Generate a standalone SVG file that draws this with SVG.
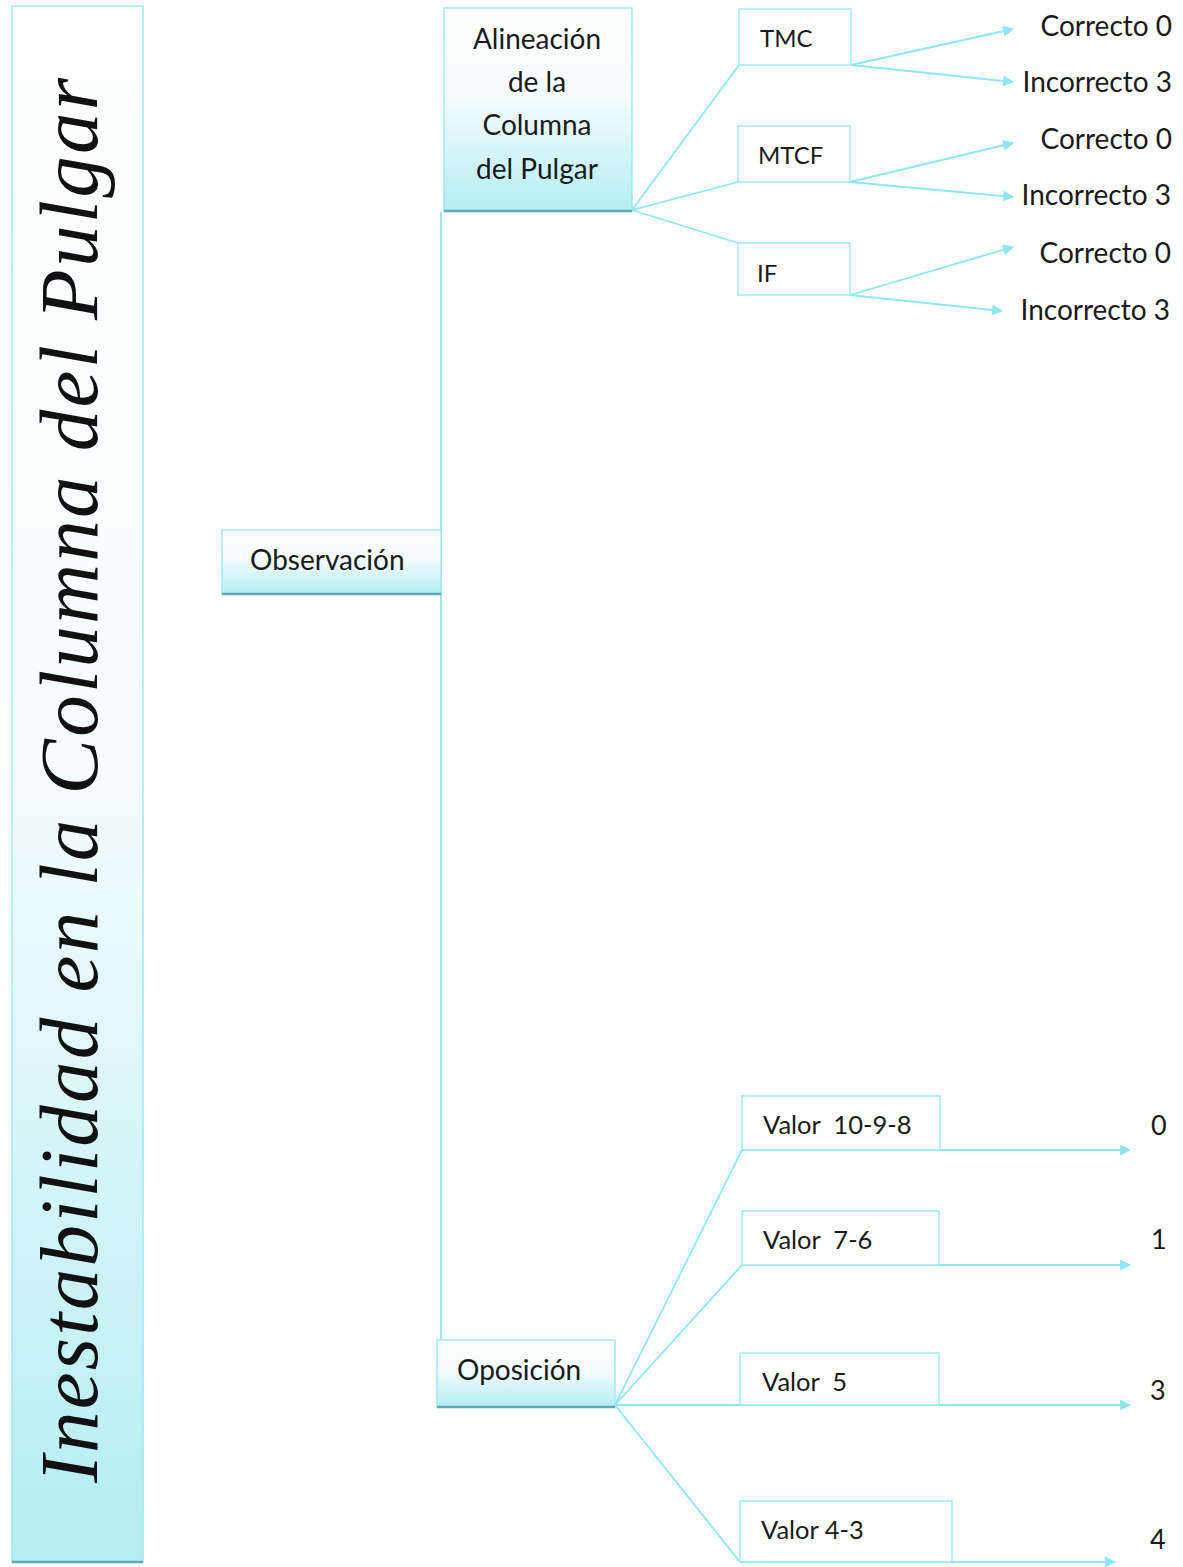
<svg xmlns="http://www.w3.org/2000/svg" width="1183" height="1567" viewBox="0 0 1183 1567">
<defs>
<linearGradient id="g1" x1="0" y1="0" x2="0" y2="1">
<stop offset="0" stop-color="#ffffff"/><stop offset="0.45" stop-color="#f4fcfd"/><stop offset="1" stop-color="#b3eef3"/>
</linearGradient>
<linearGradient id="g2" x1="0" y1="0" x2="0" y2="1">
<stop offset="0" stop-color="#ffffff"/><stop offset="0.5" stop-color="#f5fdfd"/><stop offset="1" stop-color="#b3edf2"/>
</linearGradient>
<marker id="ah" viewBox="0 0 10 10" refX="9" refY="5" markerWidth="13" markerHeight="11" markerUnits="userSpaceOnUse" orient="auto">
<path d="M0,0 L10,5 L0,10 z" fill="#8ee7ee"/>
</marker>
<style>
.gb{fill:url(#g1);stroke:#9ee9ef;stroke-width:1.5}
.wb{fill:#ffffff;stroke:#9ee9ef;stroke-width:1.5}
.sh{stroke:#5fa9b2;stroke-width:2.5}
.ln{fill:none;stroke:#8ee7ee;stroke-width:1.8}
.ar{fill:none;stroke:#8ee7ee;stroke-width:1.8;marker-end:url(#ah)}
.t{font-family:Lato,"Open Sans",sans-serif;fill:#1a1a1a}
.n{font-size:28px}
.s{font-size:24px}
.v{font-size:25.5px}
.r{font-size:28px;text-anchor:end}
.d{font-size:27px}
</style>
</defs>
<rect width="1183" height="1567" fill="#ffffff"/>

<g id="title">
<rect x="12" y="6" width="131" height="1556" fill="url(#g2)" stroke="#9ee9ef" stroke-width="1.5"/>
<line x1="12" y1="1562" x2="143" y2="1562" class="sh"/>
<text transform="translate(97,1483) rotate(-90)" x="0" y="0" font-family="'Liberation Serif',serif" font-style="italic" font-size="83" fill="#111" textLength="1405" lengthAdjust="spacing">Inestabilidad en la Columna del Pulgar</text>
</g>

<g id="connectors">
<line class="ln" x1="441" y1="212" x2="441" y2="1340"/>
<polyline class="ln" points="739,65 632,210 738,182"/>
<line class="ln" x1="632" y1="210" x2="738" y2="243"/>
<line class="ar" x1="851" y1="65" x2="1013" y2="29"/>
<line class="ar" x1="851" y1="65" x2="1013" y2="82"/>
<line class="ar" x1="850" y1="182" x2="1013" y2="143"/>
<line class="ar" x1="850" y1="182" x2="1013" y2="197"/>
<line class="ar" x1="850" y1="295" x2="1013" y2="247"/>
<line class="ar" x1="850" y1="295" x2="1002" y2="311"/>
<polyline class="ln" points="742,1150 615,1405 742,1265"/>
<polyline class="ln" points="615,1405 740,1562"/>
<line class="ar" x1="742" y1="1150" x2="1130" y2="1150"/>
<line class="ar" x1="742" y1="1265" x2="1130" y2="1265"/>
<line class="ar" x1="615" y1="1405" x2="1130" y2="1405"/>
<line class="ar" x1="740" y1="1562" x2="1115" y2="1562"/>
</g>

<g id="alineacion">
<rect class="gb" x="444" y="8" width="188" height="203"/>
<line class="sh" x1="444" y1="211" x2="632" y2="211"/>
<text class="t n" text-anchor="middle" x="537" y="49">Alineación</text>
<text class="t n" text-anchor="middle" x="537" y="92">de la</text>
<text class="t n" text-anchor="middle" x="537" y="135">Columna</text>
<text class="t n" text-anchor="middle" x="537" y="179">del Pulgar</text>
</g>

<g id="tmc"><rect class="wb" x="739" y="9" width="112" height="56"/><text class="t s" x="760" y="47">TMC</text></g>
<g id="mtcf"><rect class="wb" x="738" y="126" width="112" height="56"/><text class="t s" x="758" y="164">MTCF</text></g>
<g id="if"><rect class="wb" x="738" y="243" width="112" height="52"/><text class="t s" x="757" y="282">IF</text></g>

<g id="res-tmc-c"><text class="t r" x="1172" y="36">Correcto 0</text></g>
<g id="res-tmc-i"><text class="t r" x="1172" y="92">Incorrecto 3</text></g>
<g id="res-mtcf-c"><text class="t r" x="1172" y="149">Correcto 0</text></g>
<g id="res-mtcf-i"><text class="t r" x="1171" y="205">Incorrecto 3</text></g>
<g id="res-if-c"><text class="t r" x="1171" y="263">Correcto 0</text></g>
<g id="res-if-i"><text class="t r" x="1170" y="320">Incorrecto 3</text></g>

<g id="observacion">
<rect class="gb" x="222" y="530" width="219" height="64"/>
<line class="sh" x1="222" y1="594" x2="441" y2="594"/>
<text class="t n" x="250" y="570">Observación</text>
</g>

<g id="oposicion">
<rect class="gb" x="437" y="1340" width="178" height="67"/>
<line class="sh" x1="437" y1="1407" x2="615" y2="1407"/>
<text class="t n" x="457" y="1380">Oposición</text>
</g>

<g id="v1098"><rect class="wb" x="742" y="1096" width="198" height="54"/><text class="t v" x="763" y="1134" xml:space="preserve">Valor  10-9-8</text></g>
<g id="v76"><rect class="wb" x="742" y="1211" width="197" height="54"/><text class="t v" x="763" y="1249" xml:space="preserve">Valor  7-6</text></g>
<g id="v5"><rect class="wb" x="740" y="1353" width="199" height="52"/><text class="t v" x="762" y="1391" xml:space="preserve">Valor  5</text></g>
<g id="v43"><rect class="wb" x="740" y="1501" width="212" height="61"/><text class="t v" x="761" y="1539">Valor 4-3</text></g>

<g id="n0"><text class="t d" x="1151" y="1135">0</text></g>
<g id="n1"><text class="t d" x="1151" y="1249">1</text></g>
<g id="n3"><text class="t d" x="1150" y="1400">3</text></g>
<g id="n4"><text class="t d" x="1150" y="1549">4</text></g>
</svg>
